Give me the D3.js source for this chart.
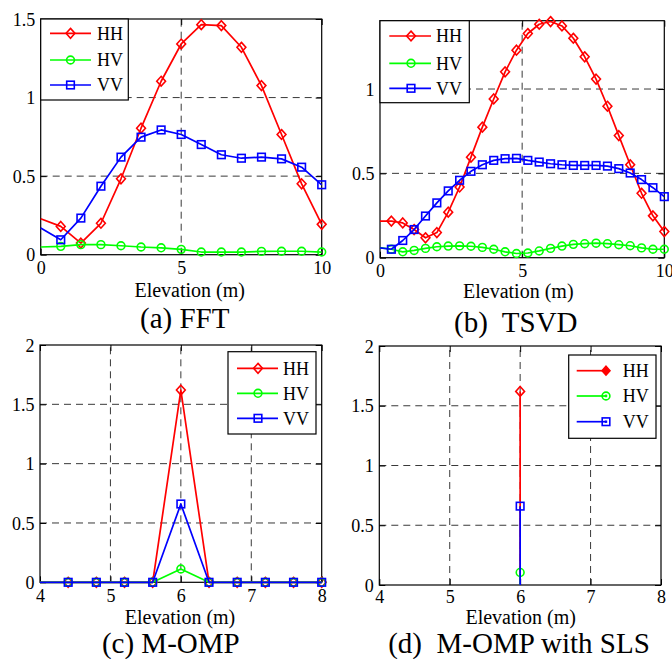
<!DOCTYPE html>
<html>
<head>
<meta charset="utf-8">
<script src="https://cdn.jsdelivr.net/npm/d3@7"></script>
<style>
  html, body { margin: 0; padding: 0; background: #fff; }
  svg { display: block; }
  text { font-family: "Liberation Serif", "Times New Roman", serif; fill: #000; }
</style>
</head>
<body>
<svg id="chart" width="672" height="659"></svg>
<script>
// ---------------- DATA ----------------
const seriesNames = ["HH", "HV", "VV"];

// (a) FFT
const fftX  = [0, 0.714, 1.429, 2.143, 2.857, 3.571, 4.286, 5, 5.714, 6.429, 7.143, 7.857, 8.571, 9.286, 10];
const fftHH = [0.229, 0.18, 0.074, 0.20, 0.483, 0.805, 1.104, 1.341, 1.464, 1.458, 1.32, 1.076, 0.765, 0.451, 0.193];
const fftHV = [0.049, 0.053, 0.064, 0.064, 0.057, 0.049, 0.044, 0.034, 0.017, 0.017, 0.017, 0.021, 0.022, 0.022, 0.017];
const fftVV = [0.17, 0.095, 0.233, 0.436, 0.621, 0.748, 0.794, 0.765, 0.701, 0.636, 0.614, 0.621, 0.61, 0.557, 0.445];

// (b) TSVD
const tsvdX  = [0, 0.4, 0.8, 1.2, 1.6, 2, 2.4, 2.8, 3.2, 3.6, 4, 4.4, 4.8, 5.2, 5.6, 6, 6.4, 6.8, 7.2, 7.6, 8, 8.4, 8.8, 9.2, 9.6, 10];
const tsvdHH = [0.217, 0.217, 0.206, 0.167, 0.118, 0.149, 0.27, 0.419, 0.596, 0.774, 0.941, 1.102, 1.23, 1.329, 1.384, 1.40, 1.374, 1.301, 1.191, 1.059, 0.898, 0.724, 0.551, 0.382, 0.248, 0.155];
const tsvdHV = [0.06, 0.05, 0.035, 0.043, 0.055, 0.065, 0.069, 0.07, 0.068, 0.061, 0.05, 0.035, 0.025, 0.028, 0.04, 0.055, 0.069, 0.079, 0.083, 0.086, 0.083, 0.077, 0.071, 0.058, 0.05, 0.05];
const tsvdVV = [0.058, 0.05, 0.102, 0.167, 0.247, 0.325, 0.396, 0.459, 0.512, 0.551, 0.577, 0.587, 0.589, 0.577, 0.567, 0.557, 0.551, 0.547, 0.547, 0.547, 0.543, 0.528, 0.502, 0.463, 0.415, 0.362];

// (c) M-OMP
const ompX  = [4, 4.4, 4.8, 5.2, 5.6, 6, 6.4, 6.8, 7.2, 7.6, 8];
const ompHH = [0, 0, 0, 0, 0, 1.62, 0, 0, 0, 0, 0];
const ompHV = [0, 0, 0, 0, 0, 0.112, 0, 0, 0, 0, 0];
const ompVV = [0, 0, 0, 0, 0, 0.66, 0, 0, 0, 0, 0];

// (d) M-OMP with SLS (stem)
const slsX  = [6];
const slsHH = [1.62];
const slsHV = [0.105];
const slsVV = [0.66];

// tick labels
const xTicksWide   = [0, 5, 10];
const xTicksNarrow = [4, 5, 6, 7, 8];
const yTicksA = [0, 0.5, 1, 1.5];
const yTicksB = [0, 0.5, 1];
const yTicksC = [0, 0.5, 1, 1.5, 2];

const captions = ["(a) FFT", "(b)  TSVD", "(c) M-OMP", "(d)  M-OMP with SLS"];
const xLabel = "Elevation (m)";

// ---------------- STYLE ----------------
const colors = { HH: "#ff0000", HV: "#00ff00", VV: "#0000ff" };
const markers = { HH: "diamond", HV: "circle", VV: "square" };
const FONT_TICK = 18, FONT_LABEL = 20, FONT_CAP = 29, FONT_LEG = 18;
const LW = 1.7;

const svg = d3.select("#chart");

function drawMarker(g, type, cx, cy, color, opts = {}) {
  const sw = 1.6;
  if (type === "diamond") {
    const r = opts.r || 4.9;
    g.append("path")
      .attr("d", `M${cx},${cy - r}L${cx + r * 0.9},${cy}L${cx},${cy + r}L${cx - r * 0.9},${cy}Z`)
      .attr("fill", opts.fill ? color : "none").attr("stroke", color).attr("stroke-width", sw);
  } else if (type === "circle") {
    g.append("circle").attr("cx", cx).attr("cy", cy).attr("r", 3.9)
      .attr("fill", "none").attr("stroke", color).attr("stroke-width", sw);
    if (opts.dot) g.append("circle").attr("cx", cx).attr("cy", cy).attr("r", 1.4).attr("fill", color);
  } else {
    const s = 7.6;
    g.append("rect").attr("x", cx - s / 2).attr("y", cy - s / 2).attr("width", s).attr("height", s)
      .attr("fill", "none").attr("stroke", color).attr("stroke-width", sw);
    if (opts.dot) g.append("rect").attr("x", cx - 1.2).attr("y", cy - 1.2).attr("width", 2.4).attr("height", 2.4).attr("fill", color);
  }
}

function drawPanel(p) {
  const g = svg.append("g");
  const x = d3.scaleLinear().domain(p.xDomain).range([p.left, p.right]);
  const y = d3.scaleLinear().domain(p.yDomain).range([p.bottom, p.top]);

  // grid
  const grid = g.append("g").attr("stroke", "#222").attr("stroke-width", 0.9)
    .attr("stroke-dasharray", "7,5").attr("fill", "none");
  p.xTicks.filter(t => t > p.xDomain[0] && t < p.xDomain[1]).forEach(t => {
    grid.append("line").attr("x1", x(t)).attr("x2", x(t)).attr("y1", p.bottom).attr("y2", p.top);
  });
  p.yTicks.filter(t => t > p.yDomain[0] && t < p.yDomain[1]).forEach(t => {
    grid.append("line").attr("x1", p.left).attr("x2", p.right).attr("y1", y(t)).attr("y2", y(t));
  });

  // box
  g.append("rect").attr("x", p.left).attr("y", p.top)
    .attr("width", p.right - p.left).attr("height", p.bottom - p.top)
    .attr("fill", "none").attr("stroke", "#000").attr("stroke-width", 1.2);

  // ticks via d3 axes (inward), on all 4 sides
  const tl = 6;
  const axB = d3.axisBottom(x).tickValues(p.xTicks).tickSize(-tl).tickFormat(d3.format("~g")).tickPadding(8);
  const axT = d3.axisTop(x).tickValues(p.xTicks).tickSize(-tl).tickFormat("");
  const axL = d3.axisLeft(y).tickValues(p.yTicks).tickSize(-tl).tickFormat(d3.format("~g")).tickPadding(11);
  const axR = d3.axisRight(y).tickValues(p.yTicks).tickSize(-tl).tickFormat("");
  const styleAxis = sel => {
    sel.attr("font-family", null);
    sel.select(".domain").remove();
    sel.selectAll("line").attr("stroke", "#000").attr("stroke-width", 1);
    sel.selectAll("text").attr("font-size", FONT_TICK).attr("fill", "#000");
  };
  const tdy = p.tickDy || 19.5;
  g.append("g").attr("transform", `translate(0,${p.bottom})`).call(axB).call(styleAxis)
    .selectAll("text").attr("dy", null).attr("y", null).attr("transform", `translate(0,${tdy})`);
  g.append("g").attr("transform", `translate(0,${p.top})`).call(axT).call(styleAxis);
  g.append("g").attr("transform", `translate(${p.left},0)`).call(axL).call(styleAxis)
    .selectAll("text").attr("dy", "0.34em").attr("x", -5.5);
  g.append("g").attr("transform", `translate(${p.right},0)`).call(axR).call(styleAxis);

  // data
  p.series.forEach(s => {
    const pts = s.xs.map((xv, i) => [xv, s.ys[i]]);
    if (p.type === "stem") {
      pts.forEach(([xv, yv]) => {
        g.append("line").attr("x1", x(xv)).attr("x2", x(xv)).attr("y1", y(0)).attr("y2", y(yv))
          .attr("stroke", colors[s.name]).attr("stroke-width", LW);
        drawMarker(g, markers[s.name], x(xv), y(yv), colors[s.name]);
      });
    } else {
      const line = d3.line().x(d => x(d[0])).y(d => y(d[1]));
      g.append("path").attr("d", line(pts)).attr("fill", "none")
        .attr("stroke", colors[s.name]).attr("stroke-width", LW).attr("stroke-linejoin", "round");
      pts.slice(1).forEach(([xv, yv]) => drawMarker(g, markers[s.name], x(xv), y(yv), colors[s.name]));
    }
  });

  // legend
  const L = p.legend;
  g.append("rect").attr("x", L.x0).attr("y", L.y0).attr("width", L.x1 - L.x0).attr("height", L.y1 - L.y0)
    .attr("fill", "#fff").attr("stroke", "#000").attr("stroke-width", 1.2);
  seriesNames.forEach((n, i) => {
    const ry = L.rows[i];
    g.append("line").attr("x1", L.lineX[0]).attr("x2", L.lineX[1]).attr("y1", ry).attr("y2", ry)
      .attr("stroke", colors[n]).attr("stroke-width", LW);
    drawMarker(g, markers[n], L.markX, ry, colors[n], p.type === "stem" ? { fill: true, dot: true, r: 4.4 } : {});
    g.append("text").attr("x", L.textX).attr("y", ry + 6.2).attr("font-size", FONT_LEG).text(n);
  });

  // labels
  g.append("text").attr("x", p.xlabelX).attr("y", p.xlabelY).attr("text-anchor", "middle")
    .attr("font-size", FONT_LABEL).text(xLabel);
  g.append("text").attr("x", p.capX).attr("y", p.capY).attr("text-anchor", "middle")
    .attr("font-size", FONT_CAP).attr("xml:space", "preserve").style("white-space", "pre").text(p.caption);
}

const mk = (xs, hh, hv, vv) => [
  { name: "HH", xs: xs, ys: hh },
  { name: "HV", xs: xs, ys: hv },
  { name: "VV", xs: xs, ys: vv }
];

drawPanel({
  left: 40.7, top: 19, right: 321.7, bottom: 254.7,
  xDomain: [0, 10], yDomain: [0, 1.5], xTicks: xTicksWide, yTicks: yTicksA,
  series: mk(fftX, fftHH, fftHV, fftVV), type: "line",
  legend: { x0: 40.7, y0: 19, x1: 128.3, y1: 100, rows: [33.3, 60, 85], lineX: [50, 91], markX: 70.5, textX: 97 },
  xlabelX: 189.7, xlabelY: 296.7, capX: 184.7, capY: 328, caption: captions[0]
});

drawPanel({
  left: 380, top: 20.7, right: 664.3, bottom: 257.7,
  xDomain: [0, 10], yDomain: [0, 1.405], xTicks: xTicksWide, yTicks: yTicksB,
  series: mk(tsvdX, tsvdHH, tsvdHV, tsvdVV), type: "line",
  legend: { x0: 380, y0: 20.7, x1: 469.3, y1: 102.7, rows: [36, 63.3, 88.3], lineX: [389.3, 431], markX: 411, textX: 436 },
  xlabelX: 518.3, xlabelY: 297.7, capX: 515.8, capY: 331.5, caption: captions[1]
});

drawPanel({
  left: 40, top: 345, right: 321.7, bottom: 582.3,
  xDomain: [4, 8], yDomain: [0, 2], xTicks: xTicksNarrow, yTicks: yTicksC,
  series: mk(ompX, ompHH, ompHV, ompVV), type: "line",
  legend: { x0: 228, y0: 351.7, x1: 316, y1: 434, rows: [368.3, 393.3, 418.3], lineX: [237, 278], markX: 258, textX: 283 },
  xlabelX: 180, xlabelY: 623.5, capX: 170.8, capY: 652.5, caption: captions[2]
});

drawPanel({
  left: 379.3, top: 346, right: 661, bottom: 585,
  xDomain: [4, 8], yDomain: [0, 2], xTicks: xTicksNarrow, yTicks: yTicksC, tickDy: 17.5,
  series: mk(slsX, slsHH, slsHV, slsVV), type: "stem",
  legend: { x0: 568.7, y0: 355, x1: 656, y1: 438.3, rows: [370.7, 396, 421.7], lineX: [576.7, 606], markX: 606, textX: 622.7 },
  xlabelX: 520.7, xlabelY: 624.3, capX: 519, capY: 652.5, caption: captions[3]
});
</script>
</body>
</html>
